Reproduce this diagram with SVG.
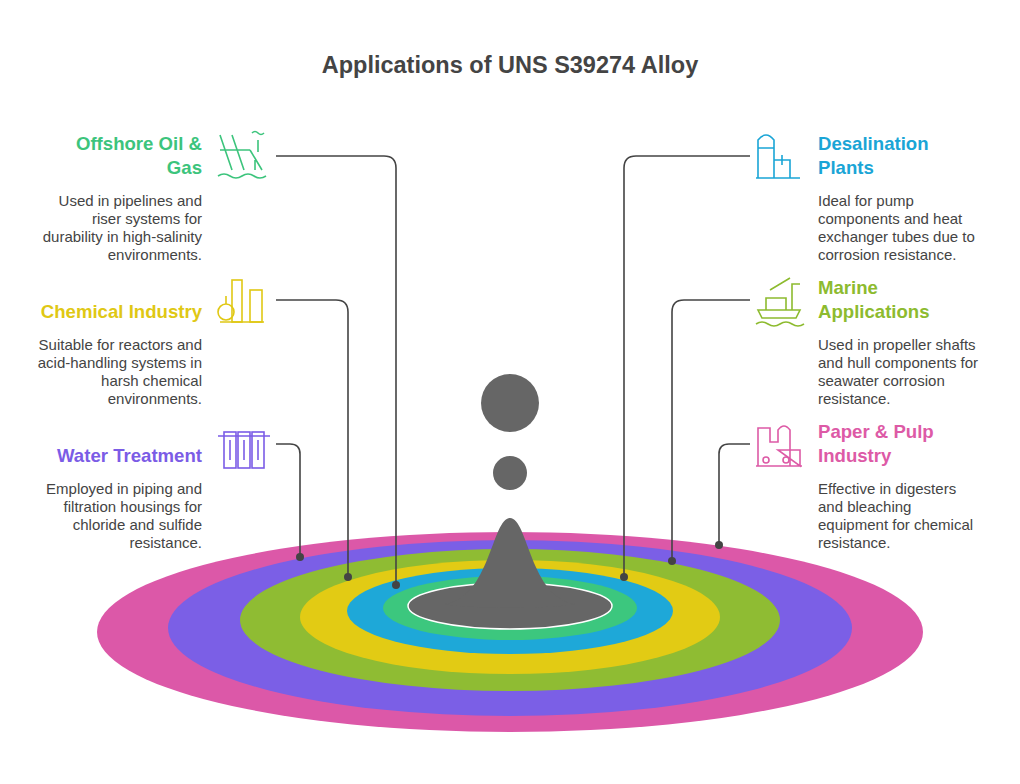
<svg xmlns="http://www.w3.org/2000/svg" width="1020" height="784" viewBox="0 0 1020 784">
<style>
.t{font-family:"Liberation Sans",Arial,sans-serif;font-weight:bold;font-size:18.6px}
.d{font-family:"Liberation Sans",Arial,sans-serif;font-size:15px;fill:#444}
.c{fill:none;stroke:#444;stroke-width:1.6}
.i{fill:none;stroke-width:1.6}
</style>
<rect width="1020" height="784" fill="#fff"/>
<text x="510" y="73" text-anchor="middle" class="t" style="font-size:23.5px" fill="#444">Applications of UNS S39274 Alloy</text>
<g id="rings">
<ellipse cx="510" cy="632" rx="413" ry="100" fill="#dc58a8"/>
<ellipse cx="510" cy="628" rx="342" ry="88" fill="#7b5fe6"/>
<ellipse cx="510" cy="620" rx="270" ry="71" fill="#8fbc33"/>
<ellipse cx="510" cy="617" rx="210" ry="57" fill="#e2cb14"/>
<ellipse cx="510" cy="611" rx="163" ry="43" fill="#1ea8d8"/>
<ellipse cx="510" cy="608" rx="127" ry="32" fill="#3cc77e"/>
<ellipse cx="510" cy="606" rx="102" ry="23" fill="#666" stroke="#fff" stroke-width="1.5"/>
<path d="M445 604 C490 598 492 518 510 518 C528 518 530 598 575 604 C555 609 465 609 445 604Z" fill="#666"/>
<circle cx="510" cy="403" r="29" fill="#666"/>
<circle cx="510" cy="473" r="17" fill="#666"/>
</g>
<g id="connectors">
<path class="c" d="M276 156 H384 Q396 156 396 168 V585"/>
<path class="c" d="M276 300 H336 Q348 300 348 312 V577"/>
<path class="c" d="M276 444 H290 Q300 444 300 454 V557"/>
<path class="c" d="M750 156 H636 Q624 156 624 168 V577"/>
<path class="c" d="M750 300 H684 Q672 300 672 312 V561"/>
<path class="c" d="M750 444 H729 Q719 444 719 454 V545"/>
<g fill="#444"><circle cx="396" cy="585" r="4"/><circle cx="348" cy="577" r="4"/><circle cx="300" cy="557" r="4"/><circle cx="624" cy="577" r="4"/><circle cx="672" cy="561" r="4"/><circle cx="719" cy="545" r="4"/></g>
</g>
<g id="offshore">
<text class="t" fill="#3cc47c" text-anchor="end"><tspan x="202" y="150">Offshore Oil &amp;</tspan><tspan x="202" y="174">Gas</tspan></text>
<text class="d" text-anchor="end"><tspan x="202" y="206">Used in pipelines and</tspan><tspan x="202" y="224">riser systems for</tspan><tspan x="202" y="242">durability in high-salinity</tspan><tspan x="202" y="260">environments.</tspan></text>
<g class="i" stroke="#3cc47c"><path d="M220 135 L232 170 M232 135 L244 170 M220 150 H250 M250 150 L262 170 M255 160 V170 M258 140 V152 M218 176 q6 -4 12 0 q6 4 12 0 q6 -4 12 0 q6 4 12 0"/><path d="M252 133 q3 -3 6 0 q3 3 6 0"/></g>
</g>
<g id="chemical">
<text class="t" fill="#e0c814" text-anchor="end" x="202" y="318">Chemical Industry</text>
<text class="d" text-anchor="end"><tspan x="202" y="350">Suitable for reactors and</tspan><tspan x="202" y="368">acid-handling systems in</tspan><tspan x="202" y="386">harsh chemical</tspan><tspan x="202" y="404">environments.</tspan></text>
<g class="i" stroke="#e0c814"><circle cx="226" cy="312" r="8"/><rect x="232" y="280" width="10" height="42"/><rect x="250" y="290" width="12" height="32"/><path d="M220 322 H264 M226 296 V304"/></g>
</g>
<g id="water">
<text class="t" fill="#7b5ce6" text-anchor="end" x="202" y="462">Water Treatment</text>
<text class="d" text-anchor="end"><tspan x="202" y="494">Employed in piping and</tspan><tspan x="202" y="512">filtration housings for</tspan><tspan x="202" y="530">chloride and sulfide</tspan><tspan x="202" y="548">resistance.</tspan></text>
<g class="i" stroke="#7b5ce6"><rect x="224" y="432" width="12" height="36"/><rect x="238" y="432" width="12" height="36"/><rect x="252" y="432" width="12" height="36"/><path d="M218 436 H270 M230 440 v20 M244 440 v20 M258 440 v20"/></g>
</g>
<g id="desal">
<text class="t" fill="#1aa5d6"><tspan x="818" y="150">Desalination</tspan><tspan x="818" y="174">Plants</tspan></text>
<text class="d"><tspan x="818" y="206">Ideal for pump</tspan><tspan x="818" y="224">components and heat</tspan><tspan x="818" y="242">exchanger tubes due to</tspan><tspan x="818" y="260">corrosion resistance.</tspan></text>
<g class="i" stroke="#1aa5d6"><path d="M758 178 V140 q8 -10 16 0 V178 M758 148 H774 M774 160 H790 V178 M782 155 V165 M756 178 H800"/></g>
</g>
<g id="marine">
<text class="t" fill="#8dbb2f"><tspan x="818" y="294">Marine</tspan><tspan x="818" y="318">Applications</tspan></text>
<text class="d"><tspan x="818" y="350">Used in propeller shafts</tspan><tspan x="818" y="368">and hull components for</tspan><tspan x="818" y="386">seawater corrosion</tspan><tspan x="818" y="404">resistance.</tspan></text>
<g class="i" stroke="#8dbb2f"><path d="M758 310 H800 L796 318 H762 Z M766 310 V298 H786 V310 M792 310 V284 H800 M770 290 L790 278 M756 324 q6 -4 12 0 q6 4 12 0 q6 -4 12 0 q6 4 12 0"/></g>
</g>
<g id="paper">
<text class="t" fill="#dd5aa6"><tspan x="818" y="438">Paper &amp; Pulp</tspan><tspan x="818" y="462">Industry</tspan></text>
<text class="d"><tspan x="818" y="494">Effective in digesters</tspan><tspan x="818" y="512">and bleaching</tspan><tspan x="818" y="530">equipment for chemical</tspan><tspan x="818" y="548">resistance.</tspan></text>
<g class="i" stroke="#dd5aa6"><path d="M758 466 V428 H770 V442 H778 V430 q6 -8 12 0 V466 M778 450 H800 V466 Z M756 466 H802"/><circle cx="766" cy="460" r="3"/><circle cx="786" cy="460" r="3"/></g>
</g>
</svg>
